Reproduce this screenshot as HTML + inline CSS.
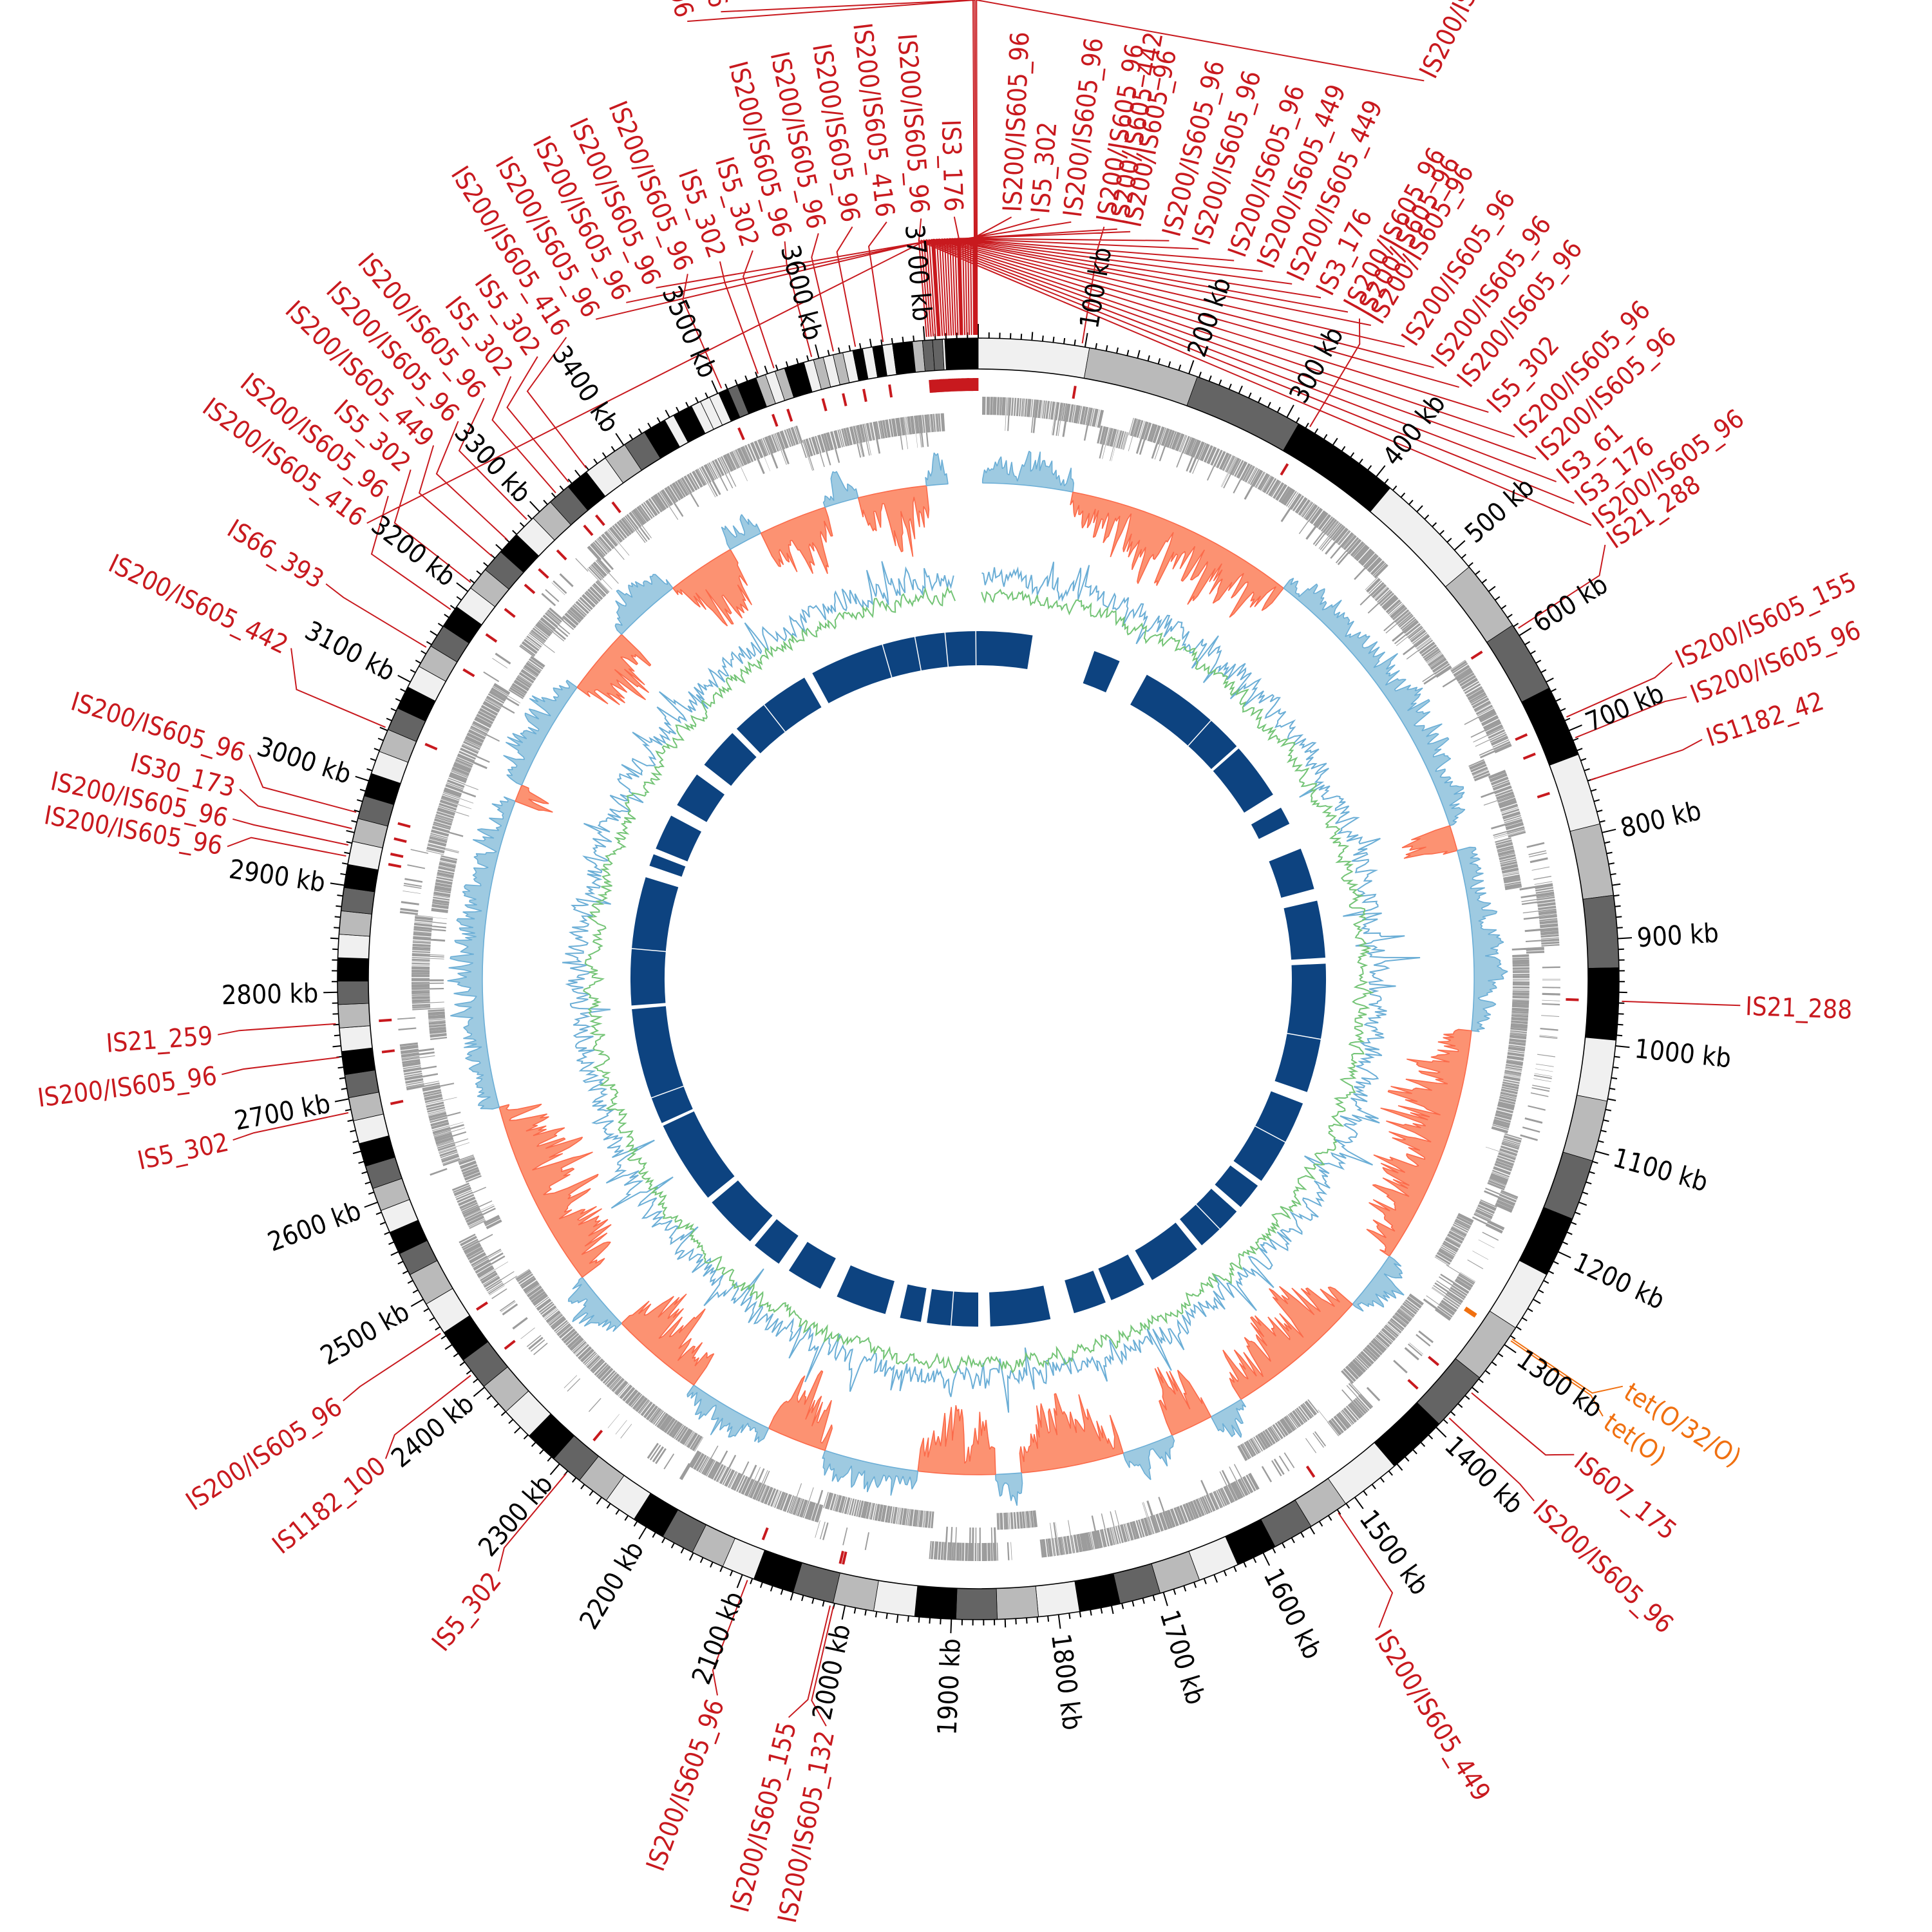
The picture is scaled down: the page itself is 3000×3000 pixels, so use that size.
<!DOCTYPE html>
<html><head><meta charset="utf-8">
<style>
html,body{margin:0;padding:0;background:#fff;}
svg{display:block;}
text{font-family:"DejaVu Sans Condensed","DejaVu Sans","Liberation Sans",sans-serif;font-stretch:condensed;}
.k{font-size:41px;fill:#000;}
.s{font-size:40px;fill:#c8191e;}
.o{font-size:40px;fill:#f07010;}
</style></head>
<body>
<svg id="svg" xmlns="http://www.w3.org/2000/svg" width="3000" height="3000" viewBox="0 0 3000 3000" style="overflow:hidden">
<rect width="3000" height="3000" fill="#fff"/>
<g id="tracks"></g>
<g id="lines"></g>
<g id="labels">
<text class="k" a="9.6" rr="1025">100 kb</text>
<text class="k" a="19.2" rr="1025">200 kb</text>
<text class="k" a="28.8" rr="1025">300 kb</text>
<text class="k" a="38.4" rr="1025">400 kb</text>
<text class="k" a="48" rr="1025">500 kb</text>
<text class="k" a="57.6" rr="1025">600 kb</text>
<text class="k" a="67.2" rr="1025">700 kb</text>
<text class="k" a="76.8" rr="1025">800 kb</text>
<text class="k" a="86.4" rr="1025">900 kb</text>
<text class="k" a="96" rr="1025">1000 kb</text>
<text class="k" a="105.6" rr="1025">1100 kb</text>
<text class="k" a="115.2" rr="1025">1200 kb</text>
<text class="k" a="124.8" rr="1025">1300 kb</text>
<text class="k" a="134.4" rr="1025">1400 kb</text>
<text class="k" a="144" rr="1025">1500 kb</text>
<text class="k" a="153.6" rr="1025">1600 kb</text>
<text class="k" a="163.2" rr="1025">1700 kb</text>
<text class="k" a="172.8" rr="1025">1800 kb</text>
<text class="k" a="182.4" rr="1025">1900 kb</text>
<text class="k" a="192" rr="1025">2000 kb</text>
<text class="k" a="201.6" rr="1025">2100 kb</text>
<text class="k" a="211.2" rr="1025">2200 kb</text>
<text class="k" a="220.8" rr="1025">2300 kb</text>
<text class="k" a="230.4" rr="1025">2400 kb</text>
<text class="k" a="240" rr="1025">2500 kb</text>
<text class="k" a="249.6" rr="1025">2600 kb</text>
<text class="k" a="259.2" rr="1025">2700 kb</text>
<text class="k" a="268.8" rr="1025">2800 kb</text>
<text class="k" a="278.4" rr="1025">2900 kb</text>
<text class="k" a="288" rr="1025">3000 kb</text>
<text class="k" a="297.6" rr="1025">3100 kb</text>
<text class="k" a="307.2" rr="1025">3200 kb</text>
<text class="k" a="316.8" rr="1025">3300 kb</text>
<text class="k" a="326.4" rr="1025">3400 kb</text>
<text class="k" a="336" rr="1025">3500 kb</text>
<text class="k" a="345.6" rr="1025">3600 kb</text>
<text class="k" a="355.2" rr="1025">3700 kb</text>

<text class="s" a="306.7" f="356">IS200/IS605_416</text>
<text class="s" a="309.3" f="305">IS200/IS605_96</text>
<text class="s" a="311.9" f="308">IS5_302</text>
<text class="s" a="314.4" f="311">IS200/IS605_449</text>
<text class="s" a="317.0" f="313">IS200/IS605_96</text>
<text class="s" a="319.6" f="315.5">IS200/IS605_96</text>
<text class="s" a="322.2" f="319">IS5_302</text>
<text class="s" a="324.7" f="320.5">IS5_302</text>
<text class="s" a="327.3" f="322.5">IS200/IS605_416</text>
<text class="s" a="329.9" f="356.5">IS200/IS605_96</text>
<text class="s" a="332.5" f="356.8">IS200/IS605_96</text>
<text class="s" a="335.0" f="357">IS200/IS605_96</text>
<text class="s" a="337.6" f="336.5">IS200/IS605_96</text>
<text class="s" a="340.2" f="340">IS5_302</text>
<text class="s" a="342.8" f="341.5">IS5_302</text>
<text class="s" a="345.3" f="345">IS200/IS605_96</text>
<text class="s" a="347.9" f="347">IS200/IS605_96</text>
<text class="s" a="350.5" f="349">IS200/IS605_96</text>
<text class="s" a="353.1" f="351.5">IS200/IS605_416</text>
<text class="s" a="355.7" f="355.4">IS200/IS605_96</text>
<text class="s" a="358.2" f="358.5">IS3_176</text>

<text class="s" a="2.5" f="359.6">IS200/IS605_96</text>
<text class="s" a="4.6" f="359.4">IS5_302</text>
<text class="s" a="7.0" f="359.2">IS200/IS605_96</text>
<text class="s" a="9.5" f="9.3">IS200/IS605_96</text>
<text class="s" a="10.5" f="359">IS200/IS605_442</text>
<text class="s" a="11.5" f="358.8">IS200/IS605_96</text>
<text class="s" a="14.5" f="358.6">IS200/IS605_96</text>
<text class="s" a="16.8" f="358.4">IS200/IS605_96</text>
<text class="s" a="19.6" f="358.2">IS200/IS605_96</text>
<text class="s" a="21.9" f="358">IS200/IS605_449</text>
<text class="s" a="24.3" f="357.8">IS200/IS605_449</text>
<text class="s" a="26.7" f="357.6">IS3_176</text>
<text class="s" a="29" f="357.4">IS200/IS605_96</text>
<text class="s" a="30" f="31">IS200/IS605_96</text>
<text class="s" a="31" f="357.2">IS200/IS605_96</text>
<text class="s" a="34" f="357">IS200/IS605_96</text>
<text class="s" a="36.7" f="356.8">IS200/IS605_96</text>
<text class="s" a="39.1" f="356.6">IS200/IS605_96</text>
<text class="s" a="42" f="356.4">IS5_302</text>
<text class="s" a="44.7" f="356.2">IS200/IS605_96</text>
<text class="s" a="47" f="356">IS200/IS605_96</text>
<text class="s" a="49.3" f="355.8">IS3_61</text>
<text class="s" a="51.4" f="355.6">IS3_176</text>
<text class="s" a="53.5" f="355.4">IS200/IS605_96</text>
<text class="s" a="55.3" f="57">IS21_288</text>

<text class="s" a="343.1" f="359.8" rr="1562" e="1520">IS200/IS605_96</text>
<text class="s" a="345.1" f="359.7" rr="1562" e="1520">IS200/IS605_96</text>
<text class="s" a="26.4" f="359.9" rr="1565" e="1520">IS200/IS605_96</text>

<text class="s" a="65.5" f="66">IS200/IS605_155</text>
<text class="s" a="68.3" f="68">IS200/IS605_96</text>
<text class="s" a="71.7" f="72">IS1182_42</text>
<text class="s" a="92" f="92">IS21_288</text>
<text class="o" a="122.3" f="124">tet(O/32/O)</text>
<text class="o" a="125" f="124.2">tet(O)</text>
<text class="s" a="128.6" f="130">IS607_175</text>
<text class="s" a="133.2" f="133">IS200/IS605_96</text>
<text class="s" a="148.3" f="146">IS200/IS605_449</text>
<text class="s" a="191.5" f="193">IS200/IS605_132</text>
<text class="s" a="194.4" f="193.3">IS200/IS605_155</text>
<text class="s" a="200" f="201">IS200/IS605_96</text>
<text class="s" a="219" f="219.8">IS5_302</text>
<text class="s" a="231" f="232">IS1182_100</text>
<text class="s" a="236.4" f="236.6">IS200/IS605_96</text>
<text class="s" a="257.8" f="258">IS5_302</text>
<text class="s" a="262.8" f="263">IS200/IS605_96</text>
<text class="s" a="265.8" f="266">IS21_259</text>
<text class="s" a="280" f="281">IS200/IS605_96</text>
<text class="s" a="282.1" f="282">IS200/IS605_96</text>
<text class="s" a="284.4" f="283.5">IS30_173</text>
<text class="s" a="287.1" f="285">IS200/IS605_96</text>
<text class="s" a="295.7" f="293">IS200/IS605_442</text>
<text class="s" a="301.2" f="301">IS66_393</text>
</g>
</svg>
<script>
(function(){
const cx=1519, cy=1520, NS='http://www.w3.org/2000/svg';
let seed=12345;
function rnd(){seed=(seed*16807)%2147483647;return seed/2147483647;}
function P(a,r){const t=(a-90)*Math.PI/180;return [cx+r*Math.cos(t),cy+r*Math.sin(t)];}
function f2(p){return p[0].toFixed(1)+','+p[1].toFixed(1);}
function add(par,tag,at){const e=document.createElementNS(NS,tag);for(const k in at)e.setAttribute(k,at[k]);par.appendChild(e);return e;}
function sector(a0,a1,r0,r1){
  const lg=(a1-a0)>180?1:0;
  return 'M'+f2(P(a0,r1))+'A'+r1+','+r1+' 0 '+lg+' 1 '+f2(P(a1,r1))+'L'+f2(P(a1,r0))+'A'+r0+','+r0+' 0 '+lg+' 0 '+f2(P(a0,r0))+'Z';
}
function quad(a0,a1,r0,r1){return 'M'+f2(P(a0,r0))+'L'+f2(P(a0,r1))+'L'+f2(P(a1,r1))+'L'+f2(P(a1,r0))+'Z';}
const T=document.getElementById('tracks'), Lg=document.getElementById('lines');

/* ideogram bands */
const cols=['#f0f0f0','#bababa','#646464','#000000'];
function W(a){return a<50?10:a<90?6.5:a<140?5.5:a<200?3.7:a<240?3:a<330?2.1:0.9;}
let a=0,i=0;
while(a<357){const w=W(a);const b=Math.min(a+w,357);
  const c=a>=330?cols[Math.floor(rnd()*4)]:cols[i%4];
  add(T,'path',{d:sector(a,b,947,995),fill:c,stroke:'#000','stroke-width':0.8});a=b;i++;}
add(T,'path',{d:sector(357,360,947,995),fill:'#000'});
add(T,'circle',{cx:cx,cy:cy,r:995,fill:'none',stroke:'#000','stroke-width':1.6});
add(T,'circle',{cx:cx,cy:cy,r:947,fill:'none',stroke:'#000','stroke-width':1.6});
/* ticks */
let d='';
for(let k=0;k<375;k++){const aa=k*0.96;const len=k%10==0?22:(k%5==0?13:9);d+='M'+f2(P(aa,995))+'L'+f2(P(aa,995+len));}
add(T,'path',{d:d,stroke:'#000','stroke-width':2,fill:'none'});

/* gene track */
const tiers=[[876,904],[852,880],[830,856]];
let gd='';let tier=0;a=0.3;
while(a<356.5){a+=rnd()*0.1;if(rnd()<0.05)tier=Math.floor(rnd()*3);
  const w=0.05+rnd()*0.3;const t=tiers[tier];gd+=quad(a,Math.min(a+w,357),t[0],t[1]);
  if(rnd()<0.25){const t2=tiers[(tier+1)%3];gd+=quad(a,Math.min(a+w*0.6,357),t2[0],t2[1]);}
  a+=w;}
add(T,'path',{d:gd,fill:'#9c9c9c'});

/* skew histogram */
const regs=[[0.5,11,1],[11,38,-1],[38,72,1],[72,75,-1],[75,96,1],[96,124,-1],[124,131,1],[131,148,-1],[148,152,1],[152,157,-1],[157,163,1],[163,175,-1],[175,178,1],[178,187,-1],[187,198,1],[198,205,-1],[205,215,1],[215,226,-1],[226,233,1],[233,255,-1],[255,291,1],[291,293,-1],[293,306,1],[306,314,-1],[314,322,1],[322,330,-1],[330,334,1],[334,342,-1],[342,346,1],[346,354,-1],[354,356.5,1]];
const B0=770;
regs.forEach(function(g){const s=g[0],e=g[1],sg=g[2];const mx=sg>0?55:115;
  let pts=[];let prev=0.5;
  for(let x=s;x<=e+0.001;x+=0.2){
    const env=0.45+0.55*Math.pow(Math.sin(Math.PI*Math.min(1,(x-s)/(e-s))),0.6);
    let v=0.4*prev+0.6*rnd(); if(rnd()<0.15)v=Math.min(1,v+0.5*rnd()); prev=v;
    pts.push(f2(P(x,B0+sg*mx*env*v)));}
  let dd='M'+f2(P(s,B0))+'L'+pts.join('L')+'L'+f2(P(e,B0))+'A'+B0+','+B0+' 0 0 0 '+f2(P(s,B0))+'Z';
  add(T,'path',{d:dd,fill:sg>0?'#9ecae1':'#fc9272',stroke:sg>0?'#6baed6':'#fb6a4a','stroke-width':1.6,'stroke-linejoin':'bevel'});
});

/* GC track */
let bp=[],gp=[];let pb=0,pg=0;
for(let x=0.5;x<=356.5;x+=0.25){
  let vb=0.4*pb+0.6*(rnd()-0.3); if(rnd()<0.06)vb+=rnd()*0.9; if(rnd()<0.03)vb-=rnd()*0.9; pb=vb*0.6;
  let vg=0.5*pg+0.5*(rnd()-0.5); pg=vg;
  bp.push(f2(P(x,612+55*vb)));gp.push(f2(P(x,598+40*vg)));}
add(T,'path',{d:'M'+bp.join('L'),fill:'none',stroke:'#6baed6','stroke-width':2});
add(T,'path',{d:'M'+gp.join('L'),fill:'none',stroke:'#74c476','stroke-width':2});

/* dark blue blocks */
const blocks=[[331.5,360],[0,9],[19.5,24],[29,48],[48.5,58],[60.5,63.5],[68,75],[77,86.5],[87.5,109],[111,125.5],[126.5,131],[132,140],[141,150],[151.5,157.5],[158.5,164],[168,178],[180,188.5],[189.5,193],[195.5,204],[207,213],[215,220],[221,230],[231,245],[245.5,265],[265.6,287],[289,291],[292,298],[300,306],[308,315],[316,330]];
let bd='';blocks.forEach(function(b){bd+=sector(b[0],b[1],487,540);});
add(T,'path',{d:bd,fill:'#0d4380'});
let wd='';[349.5,354.5,359.6,42,100,118,136,184.5,250,275,322,344].forEach(function(x){wd+='M'+f2(P(x,485))+'L'+f2(P(x,542));});
add(T,'path',{d:wd,stroke:'#fff','stroke-width':1.5,fill:'none'});

/* labels + connectors */
const texts=document.querySelectorAll('#labels text');
let ld={'#c8191e':'','#f07010':''}, td={'#c8191e':'','#f07010':''};
texts.forEach(function(t){
  const L=parseFloat(t.getAttribute('a'));const R=parseFloat(t.getAttribute('rr')||'1192');
  const right=L>=0&&L<180;const X=right?L-90:L+90;
  t.setAttribute('transform','translate('+cx+' '+cy+') rotate('+X+') translate('+(right?R:-R)+' 0)');
  t.setAttribute('text-anchor',right?'start':'end');
  t.setAttribute('dy','0.36em');
  if(t.hasAttribute('f')){
    const f=parseFloat(t.getAttribute('f'));const e=parseFloat(t.getAttribute('e')||'1150');
    const col=t.classList.contains('o')?'#f07010':'#c8191e';
    ld[col]+='M'+f2(P(f,1000))+'L'+f2(P(f,e))+'L'+f2(P(L,R-8));
    td[col]+='M'+f2(P(f,913))+'L'+f2(P(f,933));
  }
});
for(const c in ld){
  add(Lg,'path',{d:ld[c],fill:'none',stroke:c,'stroke-width':2});
  add(T,'path',{d:td[c],fill:'none',stroke:c,'stroke-width':4});
}
})();
</script>
</body></html>
